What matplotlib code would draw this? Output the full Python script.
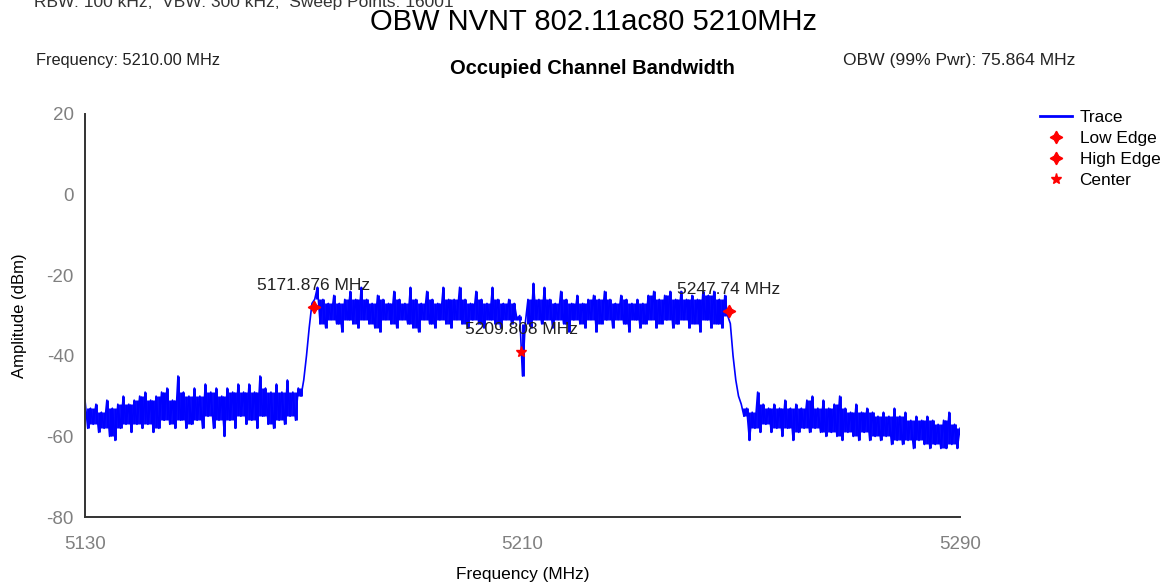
import numpy as np
import matplotlib
matplotlib.use("Agg")
import matplotlib.pyplot as plt

plt.rcParams['font.family'] = ['Liberation Sans', 'DejaVu Sans']
plt.rcParams['axes.unicode_minus'] = False

# trace values (dBm), 0.5 MHz steps from 5130 to 5290 MHz
floor_left = [-51, -58, -53, -57, -52, -59, -54, -58, -51, -60,
              -53, -61, -52, -58, -50, -57, -52, -59, -51, -57,
              -50, -58, -49, -57, -51, -59, -50, -58, -49, -56,
              -48, -57, -51, -58, -45, -56, -49, -58, -50, -57,
              -48, -56, -50, -58, -47, -55, -49, -58, -48, -56,
              -50, -60, -48, -56, -49, -58, -47, -55, -49, -57,
              -47, -56, -49, -58, -45, -55, -48, -57, -49, -58,
              -47, -56, -49, -57, -46, -55, -49, -56, -48, -50]
edge_low = [-46, -40, -33, -27]
band_low = [-26, -23, -32, -26, -33, -27, -31, -25, -32, -27,
            -34, -26, -31, -24, -32, -26, -33, -23, -31, -26,
            -32, -27, -33, -25, -34, -26, -31, -27, -32, -24,
            -33, -26, -31, -27, -32, -23, -33, -26, -34, -27,
            -31, -24, -32, -26, -33, -27, -31, -23, -32, -26,
            -33, -26, -31, -23, -32, -26, -33, -27, -31, -24,
            -32, -26, -33, -27, -31, -23, -32, -26, -33, -27,
            -31, -26, -32, -27, -31, -30]
notch = [-45]
band_high = [-32, -26, -33, -22, -31, -26, -32, -23, -31, -26,
             -33, -27, -31, -24, -32, -26, -34, -27, -31, -25,
             -32, -27, -33, -26, -31, -25, -34, -26, -32, -24,
             -31, -26, -33, -27, -31, -25, -32, -26, -34, -27,
             -31, -26, -33, -27, -32, -25, -31, -24, -33, -26,
             -32, -25, -31, -24, -33, -26, -32, -24, -31, -26,
             -33, -25, -32, -26, -34, -24, -31, -25, -33, -24,
             -32, -26, -33, -25, -30]
edge_high = [-32, -40, -46, -50, -52, -55]
floor_right = [-53, -61, -54, -58, -49, -59, -52, -57, -53, -59,
               -52, -58, -53, -60, -51, -58, -53, -61, -52, -59,
               -53, -58, -51, -59, -50, -58, -53, -59, -51, -60,
               -53, -59, -52, -60, -50, -61, -53, -59, -54, -60,
               -52, -61, -54, -59, -53, -61, -54, -60, -55, -61,
               -54, -60, -55, -62, -53, -61, -55, -62, -54, -61,
               -56, -63, -55, -61, -56, -62, -55, -63, -56, -62,
               -57, -63, -56, -63, -54, -62, -57, -63, -58]

trace = np.array(floor_left + edge_low + band_low + notch + band_high + edge_high + floor_right)
freq = np.linspace(5130, 5290, len(trace))

# markers
edge_freq = [5171.876, 5247.74]
edge_amp = [-28, -29]
center_freq = [5209.808]
center_amp = [-39]
marker_labels = ['5171.876 MHz', '5247.74 MHz', '5209.808 MHz']

fig = plt.figure(figsize=(11.69, 5.84), dpi=100)
ax = fig.add_axes([85/1169, 1-517/584, 875/1169, 403/584])

# analyzer style display: each point drawn as a column to its neighbours' median
prev = np.r_[trace[0], trace[:-1]]
nxt = np.r_[trace[1:], trace[-1]]
med = np.median(np.vstack([prev, trace, nxt]), axis=0)
ax.vlines(freq, np.minimum(trace, med), np.maximum(trace, med), color='#0000ff', lw=2.1)
ax.plot(freq, trace, color='#0000ff', lw=1.2, label='Trace')

ax.plot(edge_freq[:1], edge_amp[:1], ls='none', marker=(4, 1, 0), ms=9, color='red', label='Low Edge')
ax.plot(edge_freq[1:], edge_amp[1:], ls='none', marker=(4, 1, 0), ms=9, color='red', label='High Edge')
ax.plot(center_freq, center_amp, ls='none', marker='*', ms=8, color='red', label='Center')

for f, a, t in zip(edge_freq + center_freq, edge_amp + center_amp, marker_labels):
    ax.annotate(t, (f, a), xytext=(0, 16), textcoords='offset points',
                ha='center', va='center', fontsize=12.5, color='#222222')

ax.set_xlim(5130, 5290)
ax.set_ylim(-80, 20)
ax.set_xticks([5130, 5210, 5290])
ax.set_yticks([20, 0, -20, -40, -60, -80])
ax.tick_params(length=0, labelsize=13.5, labelcolor='#808080')
ax.tick_params(axis='x', pad=14)
ax.tick_params(axis='y', pad=8)
ax.spines['top'].set_visible(False)
ax.spines['right'].set_visible(False)
ax.spines['left'].set_color('#333333')
ax.spines['bottom'].set_color('#333333')
ax.spines['left'].set_linewidth(1.4)
ax.spines['bottom'].set_linewidth(1.4)
ax.set_xlabel('Frequency (MHz)', fontsize=12.4, labelpad=10)
ax.set_ylabel('Amplitude (dBm)', fontsize=12, labelpad=14)

leg = fig.legend(loc='upper left', bbox_to_anchor=(1033/1169, 1-103/584), frameon=False,
                 fontsize=12.4, handlelength=1.85, handletextpad=0.45, labelspacing=0.35,
                 borderaxespad=0)
leg.legend_handles[0].set_linewidth(2)

fig.text(34/1169, 1-7/584, 'RBW: 100 kHz;  VBW: 300 kHz;  Sweep Points: 16001', fontsize=12.5,
         color='#333333', ha='left', va='baseline')
fig.text(594/1169, 1-22/584, 'OBW NVNT 802.11ac80 5210MHz', fontsize=21, ha='center', va='center')
fig.text(36/1169, 1-61/584, 'Frequency: 5210.00 MHz', fontsize=11.8, color='#222222', ha='left', va='center')
fig.text(592/1169, 1-69/584, 'Occupied Channel Bandwidth', fontsize=14.5, fontweight='bold',
         ha='center', va='center')
fig.text(843/1169, 1-61/584, 'OBW (99% Pwr): 75.864 MHz', fontsize=12.6, color='#222222', ha='left', va='center')

fig.savefig('out.png', dpi=100)
